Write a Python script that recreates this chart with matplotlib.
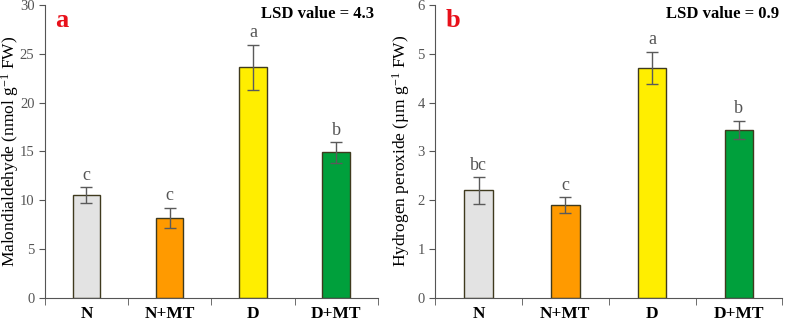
import matplotlib.pyplot as plt
import numpy as np

plt.rcParams['font.family'] = ['Liberation Serif', 'DejaVu Serif']
plt.rcParams['mathtext.fontset'] = 'custom'
plt.rcParams['mathtext.rm'] = 'Liberation Serif'
plt.rcParams['mathtext.it'] = 'Liberation Serif:italic'

treatments = ['N', 'N+MT', 'D', 'D+MT']
colors = ['#E3E3E3', '#FF9A00', '#FFEE00', '#00A03C']

mda = [10.5, 8.2, 23.6, 14.9]
mda_err = [0.8, 1.0, 2.3, 1.05]
mda_letters = ['c', 'c', 'a', 'b']

h2o2 = [2.2, 1.9, 4.71, 3.44]
h2o2_err = [0.27, 0.16, 0.33, 0.19]
h2o2_letters = ['bc', 'c', 'a', 'b']

fig = plt.figure(figsize=(7.87, 3.22), dpi=100)
ax1 = fig.add_axes([0.057, 0.075, 0.423, 0.91])
ax2 = fig.add_axes([0.553, 0.075, 0.441, 0.91])

panels = [
    (ax1, mda, mda_err, mda_letters, 30, 5, r'Malondialdehyde (nmol g$^{\mathrm{-1}}$ FW)', 'a', 'LSD value = 4.3', -0.104),
    (ax2, h2o2, h2o2_err, h2o2_letters, 6, 1, r'Hydrogen peroxide (µm g$^{\mathrm{-1}}$ FW)', 'b', 'LSD value = 0.9', -0.098),
]

x = np.arange(len(treatments))
for ax, vals, errs, letters, ymax, step, ylabel, tag, lsd, lx in panels:
    ax.bar(x, vals, width=0.33, color=colors, edgecolor='#3f3a1e', linewidth=1.0, zorder=2)
    ax.errorbar(x, vals, yerr=errs, fmt='none', ecolor='#5a5a5a', elinewidth=1.0,
                capsize=4, capthick=1.0, zorder=3)
    for xi, v, e, l in zip(x, vals, errs, letters):
        ax.text(xi, v + e + ymax * 0.012, l, ha='center', va='bottom',
                fontsize=13, color='#555555')
    ax.set_xlim(-0.5, 3.5)
    ax.set_ylim(0, ymax)
    ax.set_yticks(np.arange(0, ymax + step / 2, step))
    ax.set_xticks(x)
    ax.set_xticklabels(treatments, fontsize=12.5, fontweight='bold')
    ax.set_xticks(np.arange(-0.5, 4, 1), minor=True)
    ax.tick_params(axis='x', which='major', length=0, pad=6)
    ax.tick_params(axis='x', which='minor', length=5, direction='out', color='#555555')
    ax.tick_params(axis='y', labelsize=10.5, labelcolor='#555555', length=4,
                   direction='out', color='#555555')
    ax.set_ylabel(ylabel, fontsize=12.5, va='center')
    ax.yaxis.set_label_coords(lx, 0.5)
    for s in ['top', 'right']:
        ax.spines[s].set_visible(False)
    for s in ['left', 'bottom']:
        ax.spines[s].set_color('#555555')
    ax.text(0.03, 0.985, tag, transform=ax.transAxes, fontsize=19, fontweight='bold',
            color='#E8101A', ha='left', va='top')
    ax.text(0.99, 0.995, lsd, transform=ax.transAxes, fontsize=12, fontweight='bold',
            ha='right', va='top')

fig.savefig('out.png', dpi=100)
